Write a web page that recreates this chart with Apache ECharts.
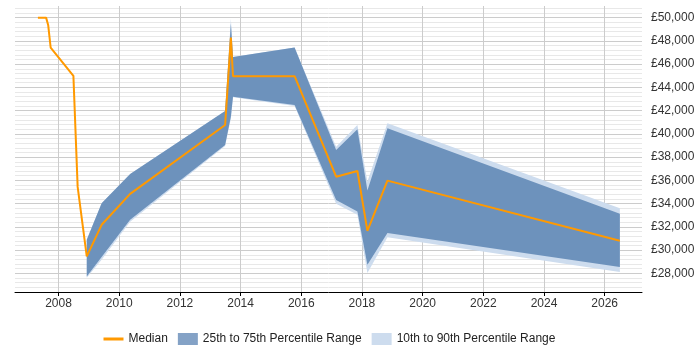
<!DOCTYPE html>
<html>
<head>
<meta charset="utf-8">
<script src="https://cdn.jsdelivr.net/npm/echarts@6/dist/echarts.min.js"></script>
<style>
  html, body { margin: 0; padding: 0; background: #fff; }
  #chart { width: 700px; height: 350px; }
</style>
</head>
<body>
<div id="chart"></div>
<script>
// median salary line
var medianYears = [2007.32, 2007.59, 2007.66, 2007.74, 2008.49, 2008.63, 2008.93, 2009.42, 2010.36,
  2013.49, 2013.68, 2013.75, 2015.78, 2017.15, 2017.85, 2018.18, 2018.84, 2026.50];
var medianValues = [50000, 50000, 49340, 47430, 44990, 35440, 29460, 32180, 34840,
  40760, 48280, 44960, 44960, 36320, 36810, 31660, 35980, 30810];

// percentile bands
var bandYears = [2008.93, 2009.42, 2010.36, 2013.49, 2013.68, 2013.75, 2015.78, 2017.15, 2017.85, 2018.18, 2018.84, 2026.50];
var p10 = [27630, 29180, 32440, 38960, 41300, 43160, 42390, 33980, 33040, 28040, 31120, 28120];
var p25 = [27740, 29400, 32610, 39040, 41500, 43190, 42480, 34320, 33320, 28750, 31470, 28550];
var p75 = [30890, 34040, 36550, 41960, 49490, 46620, 47430, 38610, 40390, 35120, 40480, 33120];
var p90 = [30890, 34040, 36550, 41960, 49910, 46620, 47430, 38900, 40760, 35900, 40910, 33610];

var yearTicks = [2008, 2010, 2012, 2014, 2016, 2018, 2020, 2022, 2024, 2026];

var FONT = 'Liberation Sans';

function pairs(xs, ys) {
  return xs.map(function (x, i) { return [x, ys[i]]; });
}

// one polygon between a lower and an upper percentile line
function bandRenderer(lower, upper, fill) {
  return function (params, api) {
    if (params.dataIndex !== 0) return null;
    var pts = [];
    for (var i = 0; i < bandYears.length; i++) pts.push(api.coord([bandYears[i], upper[i]]));
    for (var j = bandYears.length - 1; j >= 0; j--) pts.push(api.coord([bandYears[j], lower[j]]));
    return {
      type: 'polygon',
      shape: { points: pts },
      style: { fill: fill, stroke: null }
    };
  };
}

var chart = echarts.init(document.getElementById('chart'));

chart.setOption({
  animation: false,
  textStyle: { fontFamily: FONT },
  grid: { left: 15, right: 58, top: 6, bottom: 58 },
  legend: {
    left: 97,
    top: 328,
    itemWidth: 20,
    itemHeight: 12,
    itemGap: 10,
    textStyle: { fontFamily: FONT, fontSize: 12, color: '#222' },
    data: [
      { name: 'Median', itemStyle: { opacity: 0 }, lineStyle: { width: 3 } },
      { name: '25th to 75th Percentile Range', icon: 'rect' },
      { name: '10th to 90th Percentile Range', icon: 'rect' }
    ]
  },
  xAxis: {
    type: 'value',
    min: 2006.565,
    max: 2027.23,
    axisLine: { show: true, onZero: false, lineStyle: { color: '#000', width: 1 } },
    axisTick: { show: true, customValues: yearTicks, length: 4, lineStyle: { color: '#000' } },
    axisLabel: {
      customValues: yearTicks,
      fontFamily: FONT, fontSize: 12, color: '#333', margin: 6,
      formatter: function (v) { return String(v); }
    },
    splitLine: { show: true, lineStyle: { color: '#cccccc', width: 1 } }
  },
  yAxis: {
    type: 'value',
    position: 'right',
    min: 26400,
    max: 51000,
    interval: 400,
    axisLine: { show: false },
    axisTick: { show: false },
    axisLabel: {
      fontFamily: FONT, fontSize: 12, color: '#333', margin: 9,
      formatter: function (v) {
        if (v % 2000 !== 0) return '';
        return '£' + v.toLocaleString('en-GB');
      }
    },
    splitLine: {
      show: true,
      showMaxLine: false,
      lineStyle: { color: ['#e8e8e8', '#e8e8e8', '#e8e8e8', '#e8e8e8', '#cccccc'], width: 1 }
    }
  },
  series: [
    {
      name: '10th to 90th Percentile Range',
      type: 'custom',
      silent: true,
      itemStyle: { color: '#cddcee' },
      renderItem: bandRenderer(p10, p90, '#cddcee'),
      data: pairs(bandYears, p90),
      z: 2
    },
    {
      name: '25th to 75th Percentile Range',
      type: 'custom',
      silent: true,
      itemStyle: { color: '#84a2c6' },
      renderItem: bandRenderer(p25, p75, '#6d92bc'),
      data: pairs(bandYears, p75),
      z: 3
    },
    {
      name: 'Median',
      type: 'line',
      symbol: 'none',
      color: '#ff9900',
      lineStyle: { color: '#ff9900', width: 2 },
      z: 5,
      data: pairs(medianYears, medianValues)
    }
  ]
});
</script>
</body>
</html>
